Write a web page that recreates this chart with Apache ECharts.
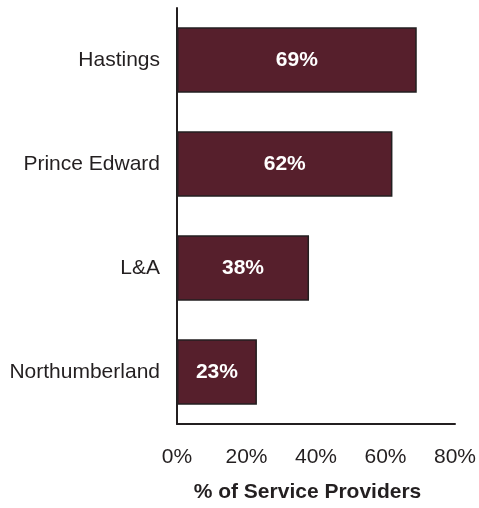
<!DOCTYPE html>
<html><head><meta charset="utf-8">
<script src="https://cdn.jsdelivr.net/npm/echarts@6/dist/echarts.min.js"></script>
<style>html,body{margin:0;padding:0;background:#fff}#c{width:479px;height:508px}</style>
</head><body><div id="c"></div>
<script>
const categories = ['Hastings', 'Prince Edward', 'L&A', 'Northumberland'];
const values = [69, 62, 38, 23];
const axisTicks = [0, 20, 40, 60, 80];
const axisTitle = '% of Service Providers';

const chart = echarts.init(document.getElementById('c'), null, {renderer: 'canvas'});
chart.setOption({
  animation: false,
  grid: {left: 177, right: 23, top: 8, bottom: 84, containLabel: false},
  xAxis: {
    type: 'value', min: axisTicks[0], max: axisTicks[axisTicks.length - 1], interval: 20,
    name: axisTitle, nameLocation: 'middle', nameGap: 58,
    nameTextStyle: {fontFamily: 'Liberation Sans', fontSize: 21, fontWeight: 'bold', color: '#231F20', padding: [0, 17, 0, 0]},
    axisLine: {show: true, lineStyle: {color: '#231F20', width: 2}},
    axisTick: {show: false},
    splitLine: {show: false},
    axisLabel: {margin: 23, formatter: v => v + '%', fontFamily: 'Liberation Sans', fontSize: 21, color: '#231F20'}
  },
  yAxis: {
    type: 'category', data: categories, inverse: true,
    axisLine: {show: true, lineStyle: {color: '#231F20', width: 2}},
    axisTick: {show: false},
    axisLabel: {margin: 17, fontFamily: 'Liberation Sans', fontSize: 21, color: '#231F20'}
  },
  series: [{
    type: 'bar', data: values, barWidth: '63%',
    itemStyle: {color: '#561F2C', borderColor: '#231F20', borderWidth: 1.5},
    label: {show: true, position: 'inside', formatter: p => p.value + '%',
      fontFamily: 'Liberation Sans', fontSize: 21, fontWeight: 'bold', color: '#fff'}
  }]
});
</script></body></html>
